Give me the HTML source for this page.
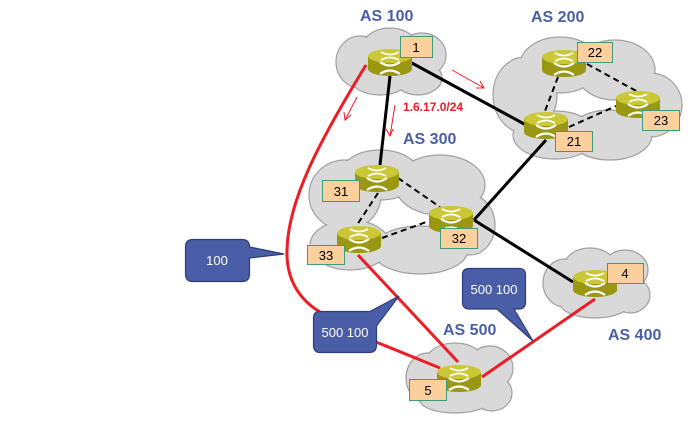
<!DOCTYPE html>
<html><head><meta charset="utf-8"><style>
html,body{margin:0;padding:0;background:#fff;}
svg{display:block;font-family:"Liberation Sans",sans-serif;}
</style></head><body>
<svg width="691" height="426" viewBox="0 0 691 426" xmlns="http://www.w3.org/2000/svg">
<defs>
<g id="rt">
<path d="M0,8 L0,21 A22,7 0 0 0 44,21 L44,8 Z" fill="#9a9712"/>
<ellipse cx="22" cy="8" rx="22" ry="7" fill="#cbc838"/>
<path d="M13,4 Q22,9 31,4 M13,12 Q22,7 31,12" stroke="#fff" stroke-width="1.8" fill="none"/>
<path d="M12,14 Q22,21 32,14 M12,26 Q22,19 32,26" stroke="#fff" stroke-width="2.2" fill="none"/>
</g>
</defs>

<g fill="#d9d9d9" stroke="#a0a0a0" stroke-width="1.2">
<g><ellipse cx="360" cy="62" rx="24" ry="26"/><ellipse cx="390" cy="48" rx="28" ry="20"/><ellipse cx="422" cy="55" rx="24" ry="22"/><ellipse cx="418" cy="78" rx="24" ry="17"/><ellipse cx="380" cy="80" rx="28" ry="15"/></g>
<g><ellipse cx="525" cy="95" rx="32" ry="38"/><ellipse cx="560" cy="65" rx="40" ry="28"/><ellipse cx="615" cy="70" rx="40" ry="30"/><ellipse cx="650" cy="105" rx="32" ry="32"/><ellipse cx="610" cy="135" rx="42" ry="25"/><ellipse cx="555" cy="135" rx="42" ry="24"/></g>
<g><ellipse cx="345" cy="195" rx="36" ry="35"/><ellipse cx="380" cy="175" rx="40" ry="25"/><ellipse cx="440" cy="185" rx="45" ry="30"/><ellipse cx="470" cy="225" rx="25" ry="30"/><ellipse cx="420" cy="250" rx="48" ry="24"/><ellipse cx="350" cy="245" rx="40" ry="25"/></g>
<g><ellipse cx="565" cy="283" rx="22" ry="24"/><ellipse cx="590" cy="265" rx="25" ry="17"/><ellipse cx="625" cy="270" rx="23" ry="20"/><ellipse cx="630" cy="295" rx="20" ry="18"/><ellipse cx="595" cy="303" rx="35" ry="15"/></g>
<g><ellipse cx="428" cy="378" rx="22" ry="25"/><ellipse cx="455" cy="360" rx="28" ry="17"/><ellipse cx="490" cy="368" rx="23" ry="22"/><ellipse cx="492" cy="393" rx="20" ry="18"/><ellipse cx="455" cy="400" rx="35" ry="13"/></g>
</g>
<g fill="#d9d9d9">
<ellipse cx="360" cy="62" rx="23" ry="25"/><ellipse cx="390" cy="48" rx="27" ry="19"/><ellipse cx="422" cy="55" rx="23" ry="21"/><ellipse cx="418" cy="78" rx="23" ry="16"/><ellipse cx="380" cy="80" rx="27" ry="14"/>
<ellipse cx="525" cy="95" rx="31" ry="37"/><ellipse cx="560" cy="65" rx="39" ry="27"/><ellipse cx="615" cy="70" rx="39" ry="29"/><ellipse cx="650" cy="105" rx="31" ry="31"/><ellipse cx="610" cy="135" rx="41" ry="24"/><ellipse cx="555" cy="135" rx="41" ry="23"/>
<ellipse cx="345" cy="195" rx="35" ry="34"/><ellipse cx="380" cy="175" rx="39" ry="24"/><ellipse cx="440" cy="185" rx="44" ry="29"/><ellipse cx="470" cy="225" rx="24" ry="29"/><ellipse cx="420" cy="250" rx="47" ry="23"/><ellipse cx="350" cy="245" rx="39" ry="24"/>
<ellipse cx="565" cy="283" rx="21" ry="23"/><ellipse cx="590" cy="265" rx="24" ry="16"/><ellipse cx="625" cy="270" rx="22" ry="19"/><ellipse cx="630" cy="295" rx="19" ry="17"/><ellipse cx="595" cy="303" rx="34" ry="14"/>
<ellipse cx="428" cy="378" rx="21" ry="24"/><ellipse cx="455" cy="360" rx="27" ry="16"/><ellipse cx="490" cy="368" rx="22" ry="21"/><ellipse cx="492" cy="393" rx="19" ry="17"/><ellipse cx="455" cy="400" rx="34" ry="12"/>
</g>

<g fill="#4a5ea8" font-weight="bold" font-size="16">
<text x="360" y="21">AS 100</text>
<text x="531" y="22">AS 200</text>
<text x="403" y="144">AS 300</text>
<text x="443" y="335">AS 500</text>
<text x="608" y="340">AS 400</text>
</g>

<g stroke="#000" stroke-width="3" fill="none">
<line x1="390" y1="76" x2="380" y2="165"/>
<line x1="410" y1="62" x2="526" y2="125"/>
<line x1="546" y1="140" x2="474" y2="220"/>
<line x1="474" y1="220" x2="573" y2="282"/>
</g>
<g stroke="#000" stroke-width="2" stroke-dasharray="6,4" fill="none">
<line x1="558" y1="77" x2="545" y2="111"/>
<line x1="587" y1="64" x2="640" y2="93"/>
<line x1="569" y1="127" x2="616" y2="106"/>
<line x1="398" y1="178" x2="440" y2="207"/>
<line x1="378" y1="193" x2="357" y2="225"/>
<line x1="382" y1="238" x2="429" y2="221"/>
</g>

<g stroke="#ee1c25" stroke-width="3" fill="none">
<line x1="358" y1="255" x2="458" y2="362"/>
<line x1="595" y1="299" x2="482" y2="377"/>
<path d="M366,65 C320,140 288,200 287,250 C286,280 300,300 320,312"/>
<line x1="376" y1="342" x2="440" y2="368"/>
</g>

<g stroke="#ee1c25" stroke-width="1" fill="none">
<line x1="452" y1="70" x2="484" y2="88"/><path d="M476,88 L484,88 L480,81"/>
<line x1="357" y1="97" x2="345" y2="120"/><path d="M344,112 L345,120 L351,115"/>
<line x1="395" y1="105" x2="390" y2="136"/><path d="M386,129 L390,136 L393,129"/>
</g>
<text x="403" y="111" fill="#ee1c25" font-weight="bold" font-size="12">1.6.17.0/24</text>

<use href="#rt" x="368" y="48"/>
<use href="#rt" x="542" y="49"/>
<use href="#rt" x="616" y="90"/>
<use href="#rt" x="524" y="111"/>
<use href="#rt" x="355" y="164"/>
<use href="#rt" x="429" y="205"/>
<use href="#rt" x="337" y="225"/>
<use href="#rt" x="573" y="269"/>
<use href="#rt" x="437" y="364"/>

<g fill="#fbd09c" stroke="#3f9a80" stroke-width="1">
<rect x="400.5" y="36.5" width="32" height="21"/>
<rect x="577.5" y="42.5" width="35" height="20"/>
<rect x="642.5" y="110.5" width="37" height="20"/>
<rect x="555.5" y="131.5" width="37" height="20"/>
<rect x="322.5" y="180.5" width="37" height="21"/>
<rect x="440.5" y="228.5" width="37" height="20"/>
<rect x="307.5" y="245.5" width="37" height="19"/>
<rect x="607.5" y="263.5" width="36" height="20"/>
<rect x="409.5" y="379.5" width="37" height="21"/>
</g>
<g font-size="13" text-anchor="middle" fill="#000">
<text x="416" y="52">1</text>
<text x="595" y="57">22</text>
<text x="661" y="125">23</text>
<text x="574" y="146">21</text>
<text x="341" y="196">31</text>
<text x="459" y="243">32</text>
<text x="326" y="260">33</text>
<text x="625" y="278">4</text>
<text x="428" y="395">5</text>
</g>

<g fill="#4a5ea8" stroke="#2e3d7a" stroke-width="1.2">
<path d="M193,239.5 H242 Q249.5,239.5 249.5,247 L284,254 L249.5,258 V274 Q249.5,281.5 242,281.5 H193 Q185.5,281.5 185.5,274 V247 Q185.5,239.5 193,239.5 Z"/>
<path d="M320,311.5 H370 L399,296 L376.5,326 V345 Q376.5,352.5 369,352.5 H320 Q313.5,352.5 313.5,345 V318 Q313.5,311.5 320,311.5 Z"/>
<path d="M469,268.5 H519 Q525.5,268.5 525.5,275 V302 Q525.5,309 519,309 H514 L533,341 L497,309 H469 Q462.5,309 462.5,302 V275 Q462.5,268.5 469,268.5 Z"/>
</g>
<g fill="#fff" font-size="13" text-anchor="middle">
<text x="217" y="265">100</text>
<text x="345" y="337">500 100</text>
<text x="494" y="294">500 100</text>
</g>
</svg>
</body></html>
